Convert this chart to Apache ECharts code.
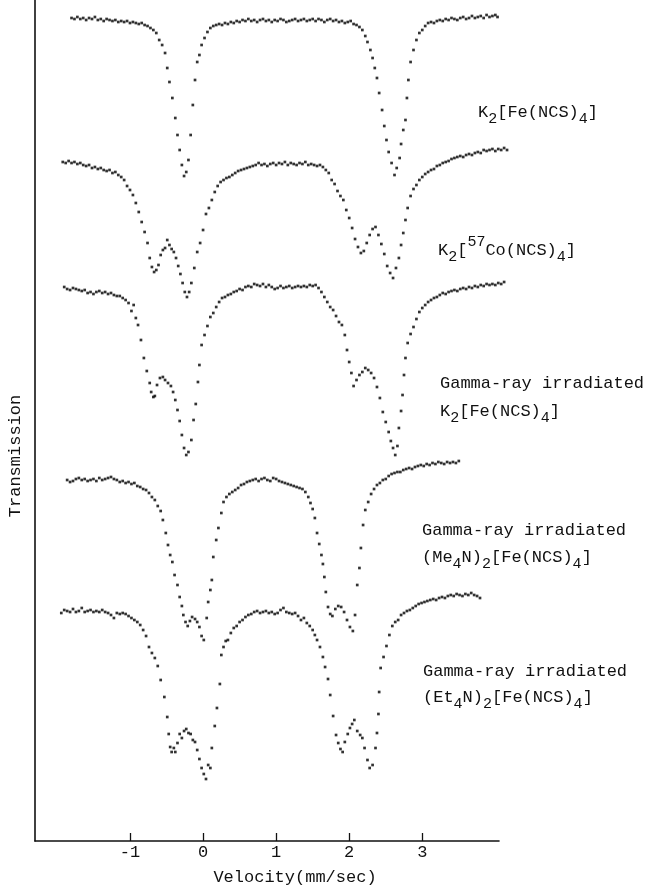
<!DOCTYPE html>
<html>
<head>
<meta charset="utf-8">
<script src="https://cdn.jsdelivr.net/npm/echarts@6/dist/echarts.min.js"></script>
<style>html,body{margin:0;padding:0;background:#fff}#c{width:650px;height:887px}</style>
</head>
<body>
<div id="c"></div>
<script>
// Velocity tick labels (mm/sec)
const velocityTicks = [-1, 0, 1, 2, 3];
// Vertical offsets of each stacked spectrum (arbitrary transmission units)
const offsets = [821, 676, 551, 361, 229];

// Spectrum 1: K2[Fe(NCS)4]  [velocity, relative transmission]
const specK2Fe = [
[-1.80,2],[-1.76,1],[-1.72,3],[-1.68,1],[-1.64,2],[-1.60,0],[-1.56,2],[-1.52,1],[-1.48,3],[-1.44,0],[-1.40,1],[-1.36,-1],[-1.32,1],[-1.28,0],[-1.24,-1],[-1.20,0],[-1.16,-2],[-1.12,-1],[-1.08,-2],[-1.04,-1],[-1.00,-3],[-0.96,-2],[-0.92,-3],[-0.88,-4],[-0.84,-3],[-0.80,-5],[-0.76,-6],
[-0.72,-8],[-0.68,-10],[-0.64,-13],[-0.60,-20],[-0.56,-25],[-0.52,-33],[-0.49,-48],[-0.46,-62],[-0.42,-78],[-0.38,-98],[-0.35,-115],[-0.32,-130],[-0.29,-145],[-0.26,-156],[-0.23,-152],[-0.20,-140],[-0.17,-115],[-0.14,-85],[-0.11,-60],[-0.08,-42],[-0.05,-35],[-0.02,-25],[0.02,-18],[0.06,-12],[0.10,-8],[0.14,-6],
[0.18,-5],[0.22,-4],[0.26,-5],[0.30,-3],[0.34,-4],[0.38,-2],[0.42,-3],[0.46,-1],[0.50,-2],[0.54,0],[0.58,-1],[0.62,1],[0.66,-1],[0.70,0],[0.74,-2],[0.78,0],[0.82,1],[0.86,-1],[0.90,0],[0.94,-2],[0.98,0],[1.02,-1],[1.06,1],[1.10,0],[1.14,-2],[1.18,-1],[1.22,0],[1.26,1],[1.30,-1],[1.34,0],[1.38,1],[1.42,-1],[1.46,0],[1.50,1],[1.54,-1],[1.58,1],[1.62,0],[1.66,-2],[1.70,0],[1.74,1],[1.78,-1],[1.82,0],[1.86,-2],[1.90,-1],[1.94,-3],[1.98,-2],[2.02,-1],[2.06,-4],[2.10,-5],
[2.14,-7],[2.18,-10],[2.22,-16],[2.25,-22],[2.29,-30],[2.32,-38],[2.35,-48],[2.38,-58],[2.41,-73],[2.45,-90],[2.48,-106],[2.51,-120],[2.54,-132],[2.58,-143],[2.62,-155],[2.65,-148],[2.69,-138],[2.71,-124],[2.74,-110],[2.77,-100],[2.79,-78],[2.81,-60],[2.84,-42],[2.88,-30],[2.92,-20],[2.96,-13],[3.00,-10],[3.04,-6],[3.08,-3],
[3.12,-2],[3.16,-3],[3.20,-1],[3.24,0],[3.28,-1],[3.32,1],[3.36,0],[3.40,2],[3.44,1],[3.48,0],[3.52,2],[3.56,3],[3.60,1],[3.64,2],[3.68,4],[3.72,2],[3.76,3],[3.80,4],[3.84,2],[3.88,5],[3.92,3],[3.96,4],[4.00,5],[4.03,3]
];

// Spectrum 2: K2[57Co(NCS)4]
const specK2Co = [
[-1.92,3],[-1.88,2],[-1.84,4],[-1.80,2],[-1.76,3],[-1.72,1],[-1.68,2],[-1.64,0],[-1.60,-1],[-1.56,0],[-1.52,-3],[-1.48,-2],[-1.44,-4],[-1.40,-3],[-1.36,-5],[-1.32,-6],[-1.28,-5],[-1.24,-8],[-1.20,-7],[-1.16,-10],[-1.12,-12],[-1.08,-15],[-1.04,-21],[-1.00,-25],[-0.96,-30],[-0.92,-38],[-0.88,-47],[-0.84,-57],[-0.80,-67],[-0.76,-78],
[-0.73,-93],[-0.70,-102],[-0.67,-107],[-0.64,-105],[-0.61,-100],[-0.58,-90],[-0.55,-85],[-0.52,-83],[-0.49,-75],[-0.46,-80],[-0.43,-84],[-0.40,-87],[-0.37,-93],[-0.34,-101],[-0.31,-109],[-0.28,-118],[-0.25,-127],[-0.22,-132],[-0.19,-127],[-0.16,-118],[-0.12,-103],[-0.08,-87],[-0.04,-78],[0.00,-65],[0.04,-49],[0.08,-43],[0.12,-35],[0.16,-27],[0.20,-21],[0.24,-17],[0.28,-15],[0.32,-13],[0.36,-12],[0.40,-10],[0.44,-8],[0.48,-6],[0.52,-5],[0.56,-4],[0.60,-3],[0.64,-2],[0.68,-1],
[0.72,0],[0.76,2],[0.80,0],[0.84,1],[0.88,-1],[0.92,1],[0.96,2],[1.00,0],[1.04,2],[1.08,1],[1.12,3],[1.16,0],[1.20,2],[1.24,1],[1.28,0],[1.32,2],[1.36,1],[1.40,3],[1.44,0],[1.48,1],[1.52,0],[1.56,-1],[1.60,0],[1.64,-2],
[1.68,-5],[1.72,-8],[1.76,-15],[1.80,-19],[1.84,-26],[1.88,-31],[1.92,-35],[1.96,-45],[2.00,-53],[2.04,-63],[2.08,-74],[2.12,-82],[2.16,-88],[2.20,-86],[2.24,-78],[2.28,-70],[2.32,-64],[2.36,-62],[2.40,-70],[2.44,-79],[2.48,-89],[2.52,-101],[2.56,-108],[2.60,-113],[2.64,-103],[2.68,-93],[2.71,-80],[2.74,-68],[2.77,-55],[2.80,-43],[2.84,-31],[2.88,-24],[2.92,-20],[2.96,-15],[3.00,-12],[3.04,-9],[3.08,-7],[3.12,-5],[3.16,-4],[3.20,-1],[3.24,0],[3.28,2],[3.32,3],[3.36,4],[3.40,6],[3.44,7],[3.48,8],[3.52,9],[3.56,8],[3.60,10],[3.64,11],[3.68,10],[3.72,12],[3.76,13],[3.80,12],[3.84,15],[3.88,14],[3.92,15],[3.96,16],[4.00,14],[4.04,16],[4.08,15],[4.12,17],[4.16,15]
];

// Spectrum 3: gamma-ray irradiated K2[Fe(NCS)4]
const specGammaK2Fe = [
[-1.90,3],[-1.86,1],[-1.82,0],[-1.78,2],[-1.74,1],[-1.70,0],[-1.66,-1],[-1.62,0],[-1.58,-3],[-1.54,-2],[-1.50,-4],[-1.46,-2],[-1.42,-1],[-1.38,-3],[-1.34,-2],[-1.30,-4],[-1.26,-3],[-1.22,-5],[-1.18,-6],[-1.14,-6],[-1.10,-8],[-1.06,-10],[-1.02,-13],[-0.98,-21],[-0.95,-15],[-0.92,-28],[-0.89,-35],[-0.85,-50],[-0.81,-68],[-0.77,-81],[-0.73,-93],[-0.71,-102],[-0.68,-107],[-0.66,-106],[-0.63,-95],[-0.59,-88],[-0.55,-87],[-0.52,-90],[-0.48,-93],[-0.44,-96],[-0.41,-102],[-0.38,-110],[-0.35,-120],[-0.32,-131],[-0.29,-145],[-0.26,-158],[-0.23,-165],[-0.20,-162],[-0.16,-150],[-0.13,-130],[-0.10,-114],[-0.07,-92],[-0.05,-75],[-0.02,-55],[0.02,-45],[0.06,-36],[0.10,-27],[0.14,-23],[0.18,-17],[0.22,-12],[0.26,-8],[0.30,-7],[0.34,-5],[0.38,-4],[0.42,-2],[0.46,-1],[0.50,1],[0.54,0],[0.58,3],[0.62,4],[0.66,3],[0.70,6],[0.74,5],[0.78,4],[0.82,6],[0.86,3],[0.90,5],[0.94,3],[0.98,1],[1.02,2],[1.06,4],[1.10,2],[1.14,3],[1.18,4],[1.22,2],[1.26,3],[1.30,4],[1.34,3],[1.38,4],[1.42,3],[1.46,5],[1.50,4],[1.54,5],[1.58,2],
[1.62,-2],[1.66,-7],[1.70,-12],[1.74,-17],[1.78,-20],[1.82,-26],[1.86,-32],[1.90,-35],[1.94,-45],[1.97,-60],[2.00,-72],[2.03,-83],[2.06,-96],[2.10,-90],[2.14,-85],[2.18,-82],[2.22,-78],[2.26,-80],[2.30,-83],[2.34,-88],[2.38,-97],[2.42,-108],[2.46,-122],[2.50,-132],[2.54,-142],[2.57,-151],[2.60,-158],[2.63,-165],[2.66,-156],[2.68,-138],[2.71,-121],[2.73,-105],[2.75,-85],[2.77,-68],[2.80,-53],[2.84,-44],[2.88,-37],[2.92,-29],[2.96,-22],[3.00,-18],[3.04,-15],[3.08,-12],[3.12,-10],[3.16,-8],[3.20,-7],[3.24,-5],[3.28,-3],[3.32,-4],[3.36,-2],[3.40,-1],[3.44,0],[3.48,-1],[3.52,1],[3.56,2],[3.60,1],[3.64,3],[3.68,2],[3.72,4],[3.76,3],[3.80,5],[3.84,4],[3.88,6],[3.92,5],[3.96,6],[4.00,5],[4.04,7],[4.08,6],[4.12,8]
];

// Spectrum 4: gamma-ray irradiated (Me4N)2[Fe(NCS)4]
const specGammaMe4N = [
[-1.86,0],[-1.82,-2],[-1.78,-1],[-1.74,1],[-1.70,2],[-1.66,0],[-1.62,1],[-1.58,-1],[-1.54,0],[-1.50,1],[-1.46,-1],[-1.42,2],[-1.38,0],[-1.34,1],[-1.30,2],[-1.26,3],[-1.22,1],[-1.18,0],[-1.14,-2],[-1.10,-1],[-1.06,-3],[-1.02,-2],[-0.98,-4],[-0.94,-3],[-0.90,-6],[-0.86,-7],[-0.82,-9],[-0.78,-10],[-0.74,-13],[-0.70,-17],[-0.66,-20],[-0.62,-26],[-0.58,-31],[-0.55,-40],[-0.51,-53],[-0.48,-65],[-0.45,-75],[-0.42,-82],[-0.39,-95],[-0.35,-105],[-0.32,-117],[-0.29,-126],[-0.27,-135],[-0.24,-142],[-0.21,-146],[-0.18,-141],[-0.15,-137],[-0.11,-139],[-0.08,-142],[-0.05,-147],[-0.02,-156],[0.01,-160],[0.05,-138],[0.07,-122],[0.10,-110],[0.12,-100],[0.14,-77],[0.18,-60],[0.21,-48],[0.25,-33],[0.28,-22],[0.32,-17],[0.36,-14],[0.40,-12],[0.44,-10],[0.48,-8],[0.52,-5],[0.56,-4],[0.60,-2],[0.64,-1],[0.68,0],[0.72,1],[0.76,-1],[0.80,1],[0.84,2],[0.88,0],[0.92,-1],[0.96,2],[1.00,1],[1.04,-1],[1.08,-2],[1.12,-3],[1.16,-4],[1.20,-5],[1.24,-6],[1.28,-7],[1.32,-8],[1.36,-9],[1.40,-12],[1.44,-17],[1.47,-23],[1.50,-29],[1.53,-38],[1.56,-53],[1.59,-64],[1.62,-75],[1.64,-84],[1.66,-97],[1.68,-112],[1.71,-127],[1.74,-134],[1.77,-136],[1.81,-129],[1.85,-126],[1.89,-127],[1.93,-132],[1.97,-140],[2.01,-147],[2.05,-151],[2.08,-135],[2.11,-105],[2.14,-88],[2.16,-68],[2.19,-45],[2.22,-30],[2.26,-22],[2.30,-14],[2.34,-9],[2.38,-5],[2.42,-3],[2.46,0],[2.50,1],[2.54,4],[2.58,6],[2.62,7],[2.66,8],[2.70,8],[2.74,10],[2.78,11],[2.82,12],[2.86,11],[2.90,13],[2.94,14],[2.98,15],[3.02,14],[3.06,16],[3.10,15],[3.14,17],[3.18,16],[3.22,18],[3.26,17],[3.30,16],[3.34,18],[3.38,17],[3.42,18],[3.46,17],[3.50,19]
];

// Spectrum 5: gamma-ray irradiated (Et4N)2[Fe(NCS)4]
const specGammaEt4N = [
[-1.94,-1],[-1.90,2],[-1.86,1],[-1.82,0],[-1.78,3],[-1.74,0],[-1.70,1],[-1.66,4],[-1.62,0],[-1.58,1],[-1.54,2],[-1.50,0],[-1.46,1],[-1.42,0],[-1.38,2],[-1.34,0],[-1.30,-1],[-1.26,-3],[-1.22,-6],[-1.18,-1],[-1.14,-2],[-1.10,-1],[-1.06,-2],[-1.02,-4],[-0.98,-6],[-0.94,-8],[-0.90,-10],[-0.86,-13],[-0.82,-18],[-0.78,-24],[-0.74,-35],[-0.70,-41],[-0.66,-46],[-0.62,-54],[-0.58,-68],[-0.53,-85],[-0.49,-105],[-0.47,-122],[-0.45,-135],[-0.43,-140],[-0.40,-136],[-0.38,-140],[-0.35,-131],[-0.32,-122],[-0.29,-126],[-0.26,-119],[-0.23,-117],[-0.20,-121],[-0.17,-122],[-0.14,-128],[-0.11,-130],[-0.08,-138],[-0.05,-147],[-0.02,-156],[0.01,-162],[0.04,-167],[0.07,-153],[0.10,-156],[0.12,-136],[0.16,-114],[0.19,-96],[0.23,-72],[0.25,-43],[0.28,-35],[0.31,-29],[0.34,-28],[0.38,-21],[0.42,-16],[0.46,-14],[0.50,-10],[0.54,-8],[0.58,-5],[0.62,-3],[0.66,-2],[0.70,0],[0.74,1],[0.78,-1],[0.82,0],[0.86,1],[0.90,-1],[0.94,0],[0.98,-2],[1.02,-1],[1.06,2],[1.10,4],[1.14,0],[1.18,-1],[1.22,-2],[1.26,-1],[1.30,-4],[1.34,-8],[1.38,-6],[1.42,-11],[1.46,-14],[1.50,-18],[1.53,-23],[1.56,-28],[1.60,-35],[1.64,-45],[1.67,-55],[1.71,-67],[1.74,-83],[1.78,-104],[1.82,-123],[1.85,-131],[1.88,-137],[1.91,-140],[1.94,-130],[1.98,-122],[2.01,-116],[2.04,-112],[2.07,-108],[2.11,-119],[2.15,-123],[2.18,-126],[2.21,-136],[2.25,-148],[2.28,-156],[2.32,-153],[2.36,-136],[2.38,-121],[2.40,-102],[2.41,-80],[2.43,-56],[2.47,-45],[2.51,-34],[2.55,-23],[2.59,-14],[2.63,-10],[2.67,-8],[2.71,-3],[2.75,-1],[2.79,1],[2.83,2],[2.87,4],[2.91,6],[2.95,8],[2.99,9],[3.03,10],[3.07,11],[3.11,12],[3.15,13],[3.19,12],[3.23,14],[3.27,15],[3.31,14],[3.35,16],[3.39,17],[3.43,16],[3.47,18],[3.51,17],[3.55,16],[3.59,18],[3.63,17],[3.67,19],[3.71,17],[3.75,16],[3.79,14]
];

const spectra = [specK2Fe, specK2Co, specGammaK2Fe, specGammaMe4N, specGammaEt4N];

const FONT = '"Liberation Mono", "DejaVu Sans Mono", monospace';
const INK = '#111';
const FS = 17;
const rich = {
  n: { fontFamily: FONT, fontSize: FS, color: INK, lineHeight: 30 },
  sb: { fontFamily: FONT, fontSize: 15, color: INK, verticalAlign: 'bottom' },
  sp: { fontFamily: FONT, fontSize: 15, color: INK, verticalAlign: 'top' }
};
function label(text, x, y) {
  return { type: 'text', x: x, y: y, style: { text: text, rich: rich, fill: INK, verticalAlign: 'middle' } };
}

const chart = echarts.init(document.getElementById('c'), null, { renderer: 'canvas' });
chart.setOption({
  backgroundColor: '#fff',
  animation: false,
  grid: { left: 35, right: 151, top: 0, bottom: 46, containLabel: false },
  xAxis: {
    type: 'value', min: -2.3, max: 4.05,
    axisLine: { show: true, onZero: false, lineStyle: { color: INK, width: 1.6 } },
    axisTick: { show: true, inside: true, length: 8, customValues: velocityTicks, lineStyle: { color: INK, width: 1.3 } },
    axisLabel: { show: true, customValues: velocityTicks, margin: 3, fontFamily: FONT, fontSize: FS, color: INK },
    splitLine: { show: false }
  },
  yAxis: {
    type: 'value', min: 0, max: 841,
    axisLine: { show: true, onZero: false, lineStyle: { color: INK, width: 1.6 } },
    axisTick: { show: false }, axisLabel: { show: false }, splitLine: { show: false }
  },
  series: spectra.map(function (s, i) {
    return {
      type: 'scatter', symbol: 'rect', symbolSize: 2.7, clip: false,
      itemStyle: { color: '#000' },
      data: s.map(function (p) { return [p[0], p[1] + offsets[i]]; })
    };
  }),
  graphic: [
    { type: 'text', x: 15, y: 456, rotation: Math.PI / 2,
      style: { text: 'Transmission', fontFamily: FONT, fontSize: FS, fill: INK, align: 'center', verticalAlign: 'middle' } },
    { type: 'text', x: 295, y: 877,
      style: { text: 'Velocity(mm/sec)', fontFamily: FONT, fontSize: FS, fill: INK, align: 'center', verticalAlign: 'middle' } },
    label('{n|K}{sb|2}{n|[Fe(NCS)}{sb|4}{n|]}', 478, 112),
    label('{n|K}{sb|2}{n|[}{sp|57}{n|Co(NCS)}{sb|4}{n|]}', 438, 250),
    label('{n|Gamma-ray irradiated}', 440, 383),
    label('{n|K}{sb|2}{n|[Fe(NCS)}{sb|4}{n|]}', 440, 411),
    label('{n|Gamma-ray irradiated}', 422, 530),
    label('{n|(Me}{sb|4}{n|N)}{sb|2}{n|[Fe(NCS)}{sb|4}{n|]}', 422, 557),
    label('{n|Gamma-ray irradiated}', 423, 671),
    label('{n|(Et}{sb|4}{n|N)}{sb|2}{n|[Fe(NCS)}{sb|4}{n|]}', 423, 697)
  ]
});
</script>
</body>
</html>
